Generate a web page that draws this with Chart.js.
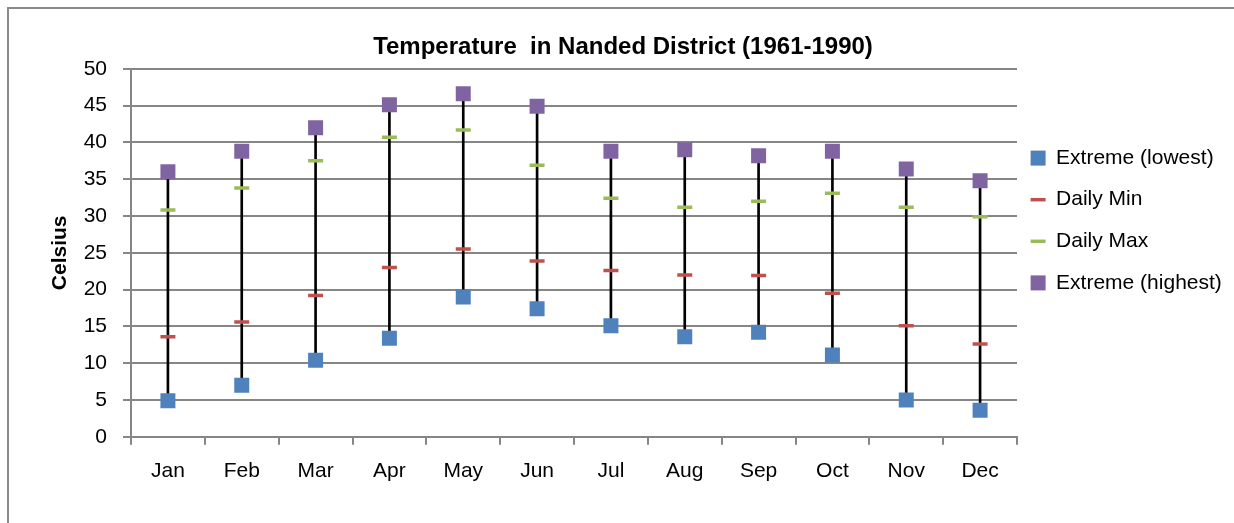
<!DOCTYPE html>
<html>
<head>
<meta charset="utf-8">
<script src="https://cdn.jsdelivr.net/npm/chart.js@4/dist/chart.umd.min.js"></script>
<style>
  html, body { margin: 0; padding: 0; background: #fff; overflow: hidden; }
  #wrap { position: relative; width: 1234px; height: 523px; }
  #frame { position: absolute; left: 7px; top: 7px; width: 1400px; height: 700px; border: 2px solid #8a8a8a; box-sizing: border-box; }
  canvas { position: absolute; left: 0; top: 0; }
</style>
</head>
<body>
<div id="wrap">
  <div id="frame"></div>
  <canvas id="c" width="1234" height="523"></canvas>
</div>
<script>
const months = ['Jan','Feb','Mar','Apr','May','Jun','Jul','Aug','Sep','Oct','Nov','Dec'];
const extremeLowest  = [4.9, 7.0, 10.4, 13.4, 19.0, 17.4, 15.1, 13.6, 14.2, 11.1, 5.0, 3.6];
const dailyMin       = [13.6, 15.6, 19.2, 23.0, 25.5, 23.9, 22.6, 22.0, 21.9, 19.5, 15.1, 12.6];
const dailyMax       = [30.8, 33.8, 37.5, 40.7, 41.7, 36.9, 32.4, 31.2, 32.0, 33.1, 31.2, 29.9];
const extremeHighest = [36.0, 38.8, 42.0, 45.1, 46.6, 44.9, 38.8, 39.0, 38.2, 38.8, 36.4, 34.8];
const yTicks = [0, 5, 10, 15, 20, 25, 30, 35, 40, 45, 50];

const FONT = "'Liberation Sans', Arial, sans-serif";
const GRID = '#868686';

const hiLow = months.map((m, i) => [extremeLowest[i], extremeHighest[i]]);

const nudge = {
  id: 'nudge',
  afterLayout(chart) {
    if (chart.legend) { chart.legend.left -= 7; chart.legend.right -= 7; }
    if (chart.titleBlock) { chart.titleBlock.left += 6; chart.titleBlock.right += 6; }
  }
};

new Chart(document.getElementById('c'), {
  type: 'bar',
  data: {
    labels: months,
    datasets: [
      { type: 'line', label: 'Extreme (lowest)', data: extremeLowest, showLine: false,
        pointStyle: 'rect', pointRadius: 10.6, pointHoverRadius: 10.6, pointBorderWidth: 0,
        backgroundColor: '#4F81BD', borderColor: '#4F81BD', borderWidth: 0, order: 1 },
      { type: 'line', label: 'Daily Min', data: dailyMin, showLine: false,
        pointStyle: 'line', pointRadius: 7.5, pointHoverRadius: 7.5, pointBorderWidth: 3.5,
        backgroundColor: '#C0504D', borderColor: '#C0504D', borderWidth: 3.5, order: 1 },
      { type: 'line', label: 'Daily Max', data: dailyMax, showLine: false,
        pointStyle: 'line', pointRadius: 7.5, pointHoverRadius: 7.5, pointBorderWidth: 3.5,
        backgroundColor: '#9BBB59', borderColor: '#9BBB59', borderWidth: 3.5, order: 1 },
      { type: 'line', label: 'Extreme (highest)', data: extremeHighest, showLine: false,
        pointStyle: 'rect', pointRadius: 10.6, pointHoverRadius: 10.6, pointBorderWidth: 0,
        backgroundColor: '#8064A2', borderColor: '#8064A2', borderWidth: 0, order: 1 },
      { type: 'bar', label: 'hilo', data: hiLow, backgroundColor: '#000000',
        barThickness: 2, borderWidth: 0, order: 10 }
    ]
  },
  plugins: [nudge],
  options: {
    responsive: false,
    animation: false,
    layout: { padding: { left: 0, top: 0, right: 0, bottom: 25 } },
    plugins: {
      tooltip: { enabled: false },
      title: {
        display: true,
        text: 'Temperature  in Nanded District (1961-1990)',
        color: '#000',
        font: { family: FONT, size: 24, weight: 'bold' },
        padding: { top: 33, bottom: 7 }
      },
      legend: {
        position: 'right',
        align: 'start',
        maxWidth: 217,
        title: { display: true, text: '', padding: { top: 115, bottom: 0 }, font: { size: 10 } },
        labels: {
          filter: (item) => item.datasetIndex !== 4,
          usePointStyle: true,
          pointStyleWidth: 15,
          boxWidth: 15,
          boxHeight: 15,
          padding: 20.6,
          color: '#000',
          font: { family: FONT, size: 21 }
        }
      }
    },
    scales: {
      x: {
        offset: true,
        grid: { offset: true, drawOnChartArea: false, drawTicks: true, tickLength: 8, color: GRID, lineWidth: 2 },
        border: { display: true, color: GRID, width: 2 },
        ticks: { color: '#000', padding: 14, font: { family: FONT, size: 21 }, maxRotation: 0 }
      },
      y: {
        min: 0, max: 50,
        afterBuildTicks: (scale) => { scale.ticks = yTicks.map(v => ({ value: v })); },
        afterFit: (scale) => { scale.width = 131; },
        grid: { color: GRID, lineWidth: 2, tickLength: 8 },
        border: { display: true, color: GRID, width: 2 },
        ticks: { color: '#000', padding: 16, font: { family: FONT, size: 21 } },
        title: { display: true, text: 'Celsius', color: '#000',
                 font: { family: FONT, size: 21, weight: 'bold' }, padding: { top: 48, bottom: 0 } }
      }
    }
  }
});
</script>
</body>
</html>
